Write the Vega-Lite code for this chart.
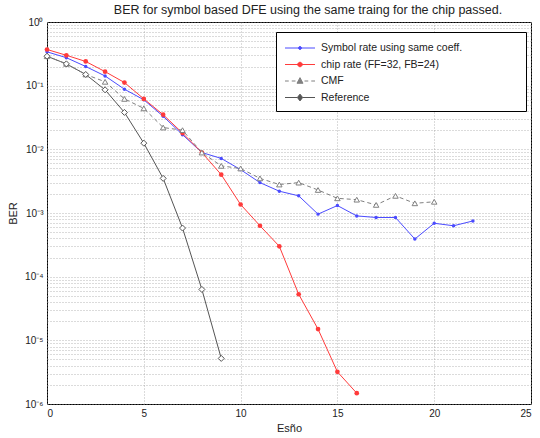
{
  "$schema": "https://vega.github.io/schema/vega-lite/v6.json",
  "autosize": "none",
  "width": 484,
  "height": 382,
  "padding": {"left": 47, "top": 22, "right": 9, "bottom": 34},
  "background": "white",
  "title": {"text": "BER for symbol based DFE using the same traing for the chip passed.", "fontSize": 12.5, "font": "Liberation Sans", "fontWeight": "normal", "color": "#222", "offset": 1, "dx": 19},
  "config": {
    "font": "Liberation Sans",
    "view": {"stroke": "#000", "strokeWidth": 1},
    "axis": {"labelFont": "Liberation Sans", "titleFont": "Liberation Sans", "labelColor": "#222", "titleColor": "#222", "titleFontWeight": "normal", "labelFontSize": 10, "titleFontSize": 11, "gridColor": "#999", "gridDash": [1, 2], "gridWidth": 0.7, "ticks": false, "domain": false}
  },
  "data": {"values": [
    {"snr": 0, "ber": 0.34, "series": "Symbol rate using same coeff."},
    {"snr": 1, "ber": 0.275, "series": "Symbol rate using same coeff."},
    {"snr": 2, "ber": 0.2, "series": "Symbol rate using same coeff."},
    {"snr": 3, "ber": 0.142, "series": "Symbol rate using same coeff."},
    {"snr": 4, "ber": 0.088, "series": "Symbol rate using same coeff."},
    {"snr": 5, "ber": 0.06, "series": "Symbol rate using same coeff."},
    {"snr": 6, "ber": 0.033, "series": "Symbol rate using same coeff."},
    {"snr": 7, "ber": 0.017, "series": "Symbol rate using same coeff."},
    {"snr": 8, "ber": 0.0089, "series": "Symbol rate using same coeff."},
    {"snr": 9, "ber": 0.0072, "series": "Symbol rate using same coeff."},
    {"snr": 10, "ber": 0.0048, "series": "Symbol rate using same coeff."},
    {"snr": 11, "ber": 0.003, "series": "Symbol rate using same coeff."},
    {"snr": 12, "ber": 0.0022, "series": "Symbol rate using same coeff."},
    {"snr": 13, "ber": 0.00186, "series": "Symbol rate using same coeff."},
    {"snr": 14, "ber": 0.00096, "series": "Symbol rate using same coeff."},
    {"snr": 15, "ber": 0.00131, "series": "Symbol rate using same coeff."},
    {"snr": 16, "ber": 0.0009, "series": "Symbol rate using same coeff."},
    {"snr": 17, "ber": 0.00085, "series": "Symbol rate using same coeff."},
    {"snr": 18, "ber": 0.00085, "series": "Symbol rate using same coeff."},
    {"snr": 19, "ber": 0.00039, "series": "Symbol rate using same coeff."},
    {"snr": 20, "ber": 0.00069, "series": "Symbol rate using same coeff."},
    {"snr": 21, "ber": 0.00063, "series": "Symbol rate using same coeff."},
    {"snr": 22, "ber": 0.00075, "series": "Symbol rate using same coeff."},
    {"snr": 0, "ber": 0.37, "series": "chip rate (FF=32, FB=24)"},
    {"snr": 1, "ber": 0.3, "series": "chip rate (FF=32, FB=24)"},
    {"snr": 2, "ber": 0.24, "series": "chip rate (FF=32, FB=24)"},
    {"snr": 3, "ber": 0.166, "series": "chip rate (FF=32, FB=24)"},
    {"snr": 4, "ber": 0.112, "series": "chip rate (FF=32, FB=24)"},
    {"snr": 5, "ber": 0.062, "series": "chip rate (FF=32, FB=24)"},
    {"snr": 6, "ber": 0.035, "series": "chip rate (FF=32, FB=24)"},
    {"snr": 7, "ber": 0.018, "series": "chip rate (FF=32, FB=24)"},
    {"snr": 8, "ber": 0.0089, "series": "chip rate (FF=32, FB=24)"},
    {"snr": 9, "ber": 0.004, "series": "chip rate (FF=32, FB=24)"},
    {"snr": 10, "ber": 0.00136, "series": "chip rate (FF=32, FB=24)"},
    {"snr": 11, "ber": 0.00063, "series": "chip rate (FF=32, FB=24)"},
    {"snr": 12, "ber": 0.0003, "series": "chip rate (FF=32, FB=24)"},
    {"snr": 13, "ber": 0.000053, "series": "chip rate (FF=32, FB=24)"},
    {"snr": 14, "ber": 0.000015, "series": "chip rate (FF=32, FB=24)"},
    {"snr": 15, "ber": 0.0000032, "series": "chip rate (FF=32, FB=24)"},
    {"snr": 16, "ber": 0.00000148, "series": "chip rate (FF=32, FB=24)"},
    {"snr": 0, "ber": 0.29, "series": "CMF"},
    {"snr": 1, "ber": 0.22, "series": "CMF"},
    {"snr": 2, "ber": 0.15, "series": "CMF"},
    {"snr": 3, "ber": 0.115, "series": "CMF"},
    {"snr": 4, "ber": 0.062, "series": "CMF"},
    {"snr": 5, "ber": 0.044, "series": "CMF"},
    {"snr": 6, "ber": 0.022, "series": "CMF"},
    {"snr": 7, "ber": 0.02, "series": "CMF"},
    {"snr": 8, "ber": 0.0089, "series": "CMF"},
    {"snr": 9, "ber": 0.0055, "series": "CMF"},
    {"snr": 10, "ber": 0.005, "series": "CMF"},
    {"snr": 11, "ber": 0.0035, "series": "CMF"},
    {"snr": 12, "ber": 0.0028, "series": "CMF"},
    {"snr": 13, "ber": 0.003, "series": "CMF"},
    {"snr": 14, "ber": 0.0023, "series": "CMF"},
    {"snr": 15, "ber": 0.0017, "series": "CMF"},
    {"snr": 16, "ber": 0.00162, "series": "CMF"},
    {"snr": 17, "ber": 0.00134, "series": "CMF"},
    {"snr": 18, "ber": 0.00186, "series": "CMF"},
    {"snr": 19, "ber": 0.00142, "series": "CMF"},
    {"snr": 20, "ber": 0.0015, "series": "CMF"},
    {"snr": 0, "ber": 0.29, "series": "Reference"},
    {"snr": 1, "ber": 0.22, "series": "Reference"},
    {"snr": 2, "ber": 0.15, "series": "Reference"},
    {"snr": 3, "ber": 0.086, "series": "Reference"},
    {"snr": 4, "ber": 0.038, "series": "Reference"},
    {"snr": 5, "ber": 0.0125, "series": "Reference"},
    {"snr": 6, "ber": 0.0035, "series": "Reference"},
    {"snr": 7, "ber": 0.00058, "series": "Reference"},
    {"snr": 8, "ber": 0.000063, "series": "Reference"},
    {"snr": 9, "ber": 0.0000052, "series": "Reference"}
  ]},
  "encoding": {
    "x": {"field": "snr", "type": "quantitative", "scale": {"domain": [0, 25], "nice": false}, "axis": {"values": [0, 5, 10, 15, 20, 25], "title": "Esño", "titlePadding": 4, "labelPadding": 4}},
    "y": {"field": "ber", "type": "quantitative", "scale": {"type": "log", "domain": [0.000001, 1], "nice": false}, "axis": {"title": "BER", "titlePadding": 6, "labelPadding": 4,
      "values": [0.000001, 0.000002, 0.000003, 0.000004, 0.000005, 0.000006, 0.000007, 0.000008, 0.000009, 0.00001, 0.00002, 0.00003, 0.00004, 0.00005, 0.00006, 0.00007, 0.00008, 0.00009, 0.0001, 0.0002, 0.0003, 0.0004, 0.0005, 0.0006, 0.0007, 0.0008, 0.0009, 0.001, 0.002, 0.003, 0.004, 0.005, 0.006, 0.007, 0.008, 0.009, 0.01, 0.02, 0.03, 0.04, 0.05, 0.06, 0.07, 0.08, 0.09, 0.1, 0.2, 0.3, 0.4, 0.5, 0.6, 0.7, 0.8, 0.9, 1],
      "labelExpr": "abs(log(datum.value)/LN10 - round(log(datum.value)/LN10)) > 0.01 ? '' : (round(log(datum.value)/LN10) == 0 ? '10⁰' : '10⁻' + ['⁰','¹','²','³','⁴','⁵','⁶'][round(-log(datum.value)/LN10)])"}},
    "color": {"field": "series", "type": "nominal", "scale": {"domain": ["Symbol rate using same coeff.", "chip rate (FF=32, FB=24)", "CMF", "Reference"], "range": ["#4b4bff", "#ff3b3b", "#808080", "#555555"]},
      "legend": {"title": "\u00a0", "titleOrient": "right", "titlePadding": 56, "orient": "none", "legendX": 229, "legendY": 10, "fillColor": "white", "strokeColor": "#000", "padding": 8, "labelFontSize": 10.5, "labelColor": "#222", "symbolSize": 225, "symbolOffset": 8, "labelOffset": 13, "rowPadding": 2.5, "symbolStrokeWidth": 1, "symbolOpacity": 1, "labelFont": "Liberation Sans",
        "symbolType": {"expr": "datum.value == 'CMF' ? 'M-2,0H-1.5M-1.1,0H-0.6M0.6,0H1.1M1.5,0H2M0,-0.45L0.4,0.3H-0.4Z' : datum.value == 'Reference' ? 'M-2,0H-0.35M0.35,0H2M0,-0.45L0.35,0L0,0.45L-0.35,0Z' : datum.value == 'Symbol rate using same coeff.' ? 'M-2,0H2M-0.2,0A0.2,0.2,0,1,1,0.2,0A0.2,0.2,0,1,1,-0.2,0Z' : 'M-2,0H2M-0.3,0A0.3,0.3,0,1,1,0.3,0A0.3,0.3,0,1,1,-0.3,0Z'"}}}
  },
  "layer": [
    {"transform": [{"filter": "datum.series != 'CMF'"}], "mark": {"type": "line", "strokeWidth": 1}},
    {"transform": [{"filter": "datum.series == 'CMF'"}], "mark": {"type": "line", "strokeWidth": 1, "strokeDash": [4, 3]}},
    {"transform": [{"filter": "datum.series == 'Symbol rate using same coeff.'"}], "mark": {"type": "point", "shape": "circle", "filled": true, "size": 12, "opacity": 1}},
    {"transform": [{"filter": "datum.series == 'chip rate (FF=32, FB=24)'"}], "mark": {"type": "point", "shape": "circle", "filled": true, "size": 22, "opacity": 1}},
    {"transform": [{"filter": "datum.series == 'CMF'"}], "mark": {"type": "point", "shape": "triangle-up", "filled": false, "fill": "white", "size": 30, "strokeWidth": 1, "opacity": 1}},
    {"transform": [{"filter": "datum.series == 'Reference'"}], "mark": {"type": "point", "shape": "diamond", "filled": false, "fill": "white", "size": 36, "strokeWidth": 1, "opacity": 1}}
  ]
}
